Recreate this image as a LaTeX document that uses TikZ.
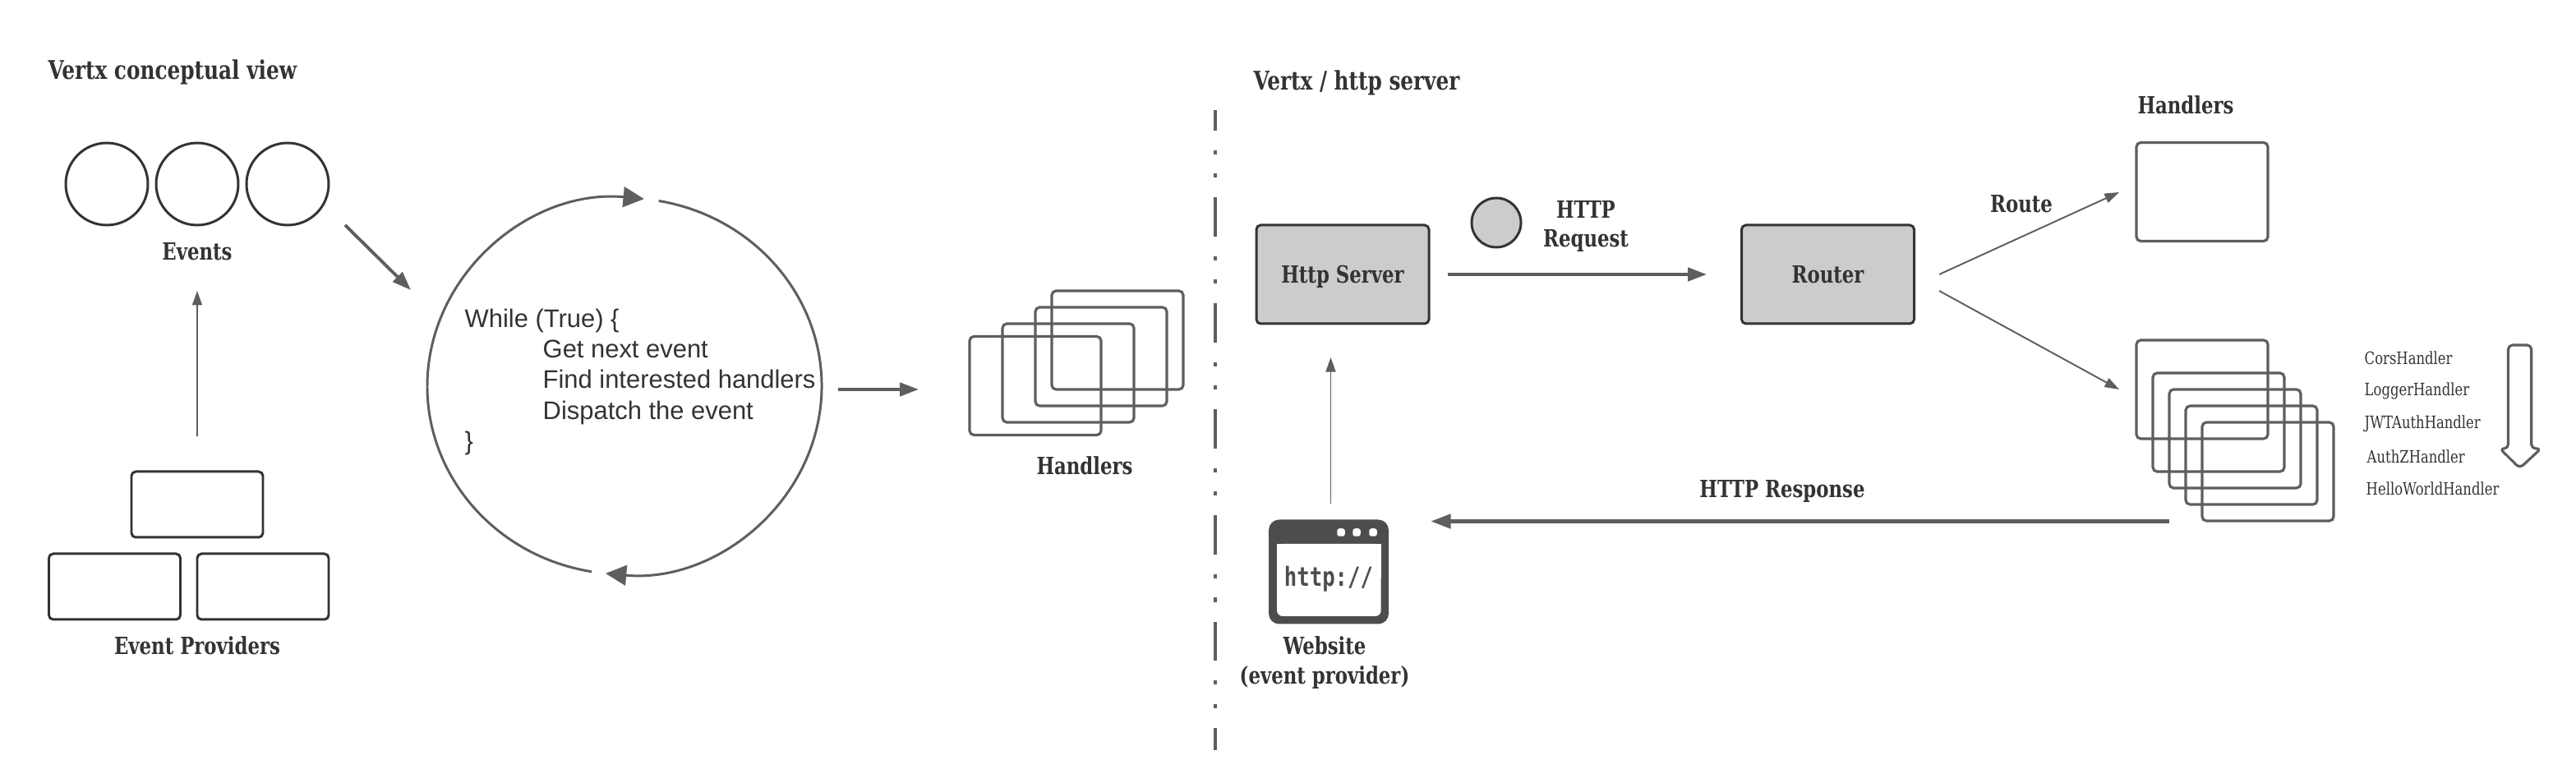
\documentclass[tikz,border=0pt]{standalone}
\usepackage{fontspec}
\usepackage{xcolor}
\usetikzlibrary{arrows.meta}
\setmainfont{Liberation Sans}
\newfontfamily\slabfont[FakeStretch=0.88]{DejaVu Serif Condensed}
\newfontfamily\iconfont{DejaVu Sans Mono}
\definecolor{inkDark}{RGB}{51, 51, 51}
\definecolor{lineGrey}{RGB}{94, 94, 94}
\definecolor{iconGrey}{RGB}{77, 77, 77}
\definecolor{boxGrey}{RGB}{204, 204, 204}
\tikzset{
  label/.style={text=inkDark, inner sep=0pt, align=center, font=\slabfont\bfseries\fontsize{8.2}{10}\selectfont},
  titleLabel/.style={label, anchor=west, font=\slabfont\bfseries\fontsize{8.9}{11}\selectfont},
  handlerName/.style={text=inkDark, inner sep=0pt, anchor=west, font=\slabfont\fontsize{5.9}{7}\selectfont},
  eventBall/.style={draw=inkDark, circle, line width=0.85pt, minimum size=1cm, inner sep=0pt},
  providerBox/.style={draw=inkDark, rounded corners=1.5pt, line width=0.85pt, minimum width=1.6cm, minimum height=0.8cm},
  handlerBox/.style={draw=lineGrey, rounded corners=1.5pt, line width=0.9pt, minimum width=1.6cm, minimum height=1.2cm},
  serverBox/.style={draw=inkDark, fill=boxGrey, rounded corners=1.5pt, line width=0.85pt, minimum width=2.1cm, minimum height=1.2cm, text=inkDark, text depth=0pt, font=\slabfont\bfseries\fontsize{8.2}{10}\selectfont},
  thinArrow/.style={draw=lineGrey, line width=0.55pt, -{Triangle[length=5pt, width=3.4pt]}},
  midArrow/.style={draw=lineGrey, line width=1.1pt, -{Triangle[length=6.5pt, width=4.6pt]}},
  heavyArrow/.style={draw=lineGrey, line width=1.4pt, -{Triangle[length=7pt, width=4.8pt]}},
  loopArrow/.style={draw=lineGrey, line width=0.85pt, -{Triangle[length=7.2pt, width=7pt]}}
}
\begin{document}
\begin{tikzpicture}
  \useasboundingbox (0,0.01) rectangle (31.35,9.54);

  % Conceptual view
  \node[titleLabel] (titleLeft) at (0.58,8.665) {Vertx conceptual view};
  \node[eventBall] (event1) at (1.30,7.30) {};
  \node[eventBall] (event2) at (2.40,7.30) {};
  \node[eventBall] (event3) at (3.50,7.30) {};
  \node[label] (eventsLabel) at (2.40,6.475) {Events};

  % Event providers
  \node[providerBox] (providerTop) at (2.40,3.40) {};
  \node[providerBox] (providerLeft) at (1.395,2.40) {};
  \node[providerBox] (providerRight) at (3.20,2.40) {};
  \node[label] (providersLabel) at (2.40,1.68) {Event Providers};
  \draw[thinArrow, shorten <=0.41cm, shorten >=0.36cm] (providerTop.north) -- (eventsLabel.south);

  % Event loop
  \coordinate (loopCentre) at (7.60,4.84);
  \draw[loopArrow] ([shift={(80:2.4 and 2.29)}]loopCentre) arc[start angle=80, end angle=-95.5, x radius=2.4, y radius=2.29];
  \draw[loopArrow] ([shift={(260.4:2.4 and 2.29)}]loopCentre) arc[start angle=260.4, end angle=84.3, x radius=2.4, y radius=2.29];
  \node[text=inkDark, inner sep=0pt, anchor=west, align=left, font=\fontsize{8.8}{10.6}\selectfont] (loopText) at (5.65,4.89) {While (True) \{\\
    \hspace*{0.95cm}Get next event\\
    \hspace*{0.95cm}Find interested handlers\\
    \hspace*{0.95cm}Dispatch the event\\
    \}};
  \coordinate (eventsOut) at (4.20,6.80);
  \coordinate (loopIn) at (5.00,6.01);
  \draw[midArrow] (eventsOut) -- (loopIn);
  \coordinate (loopOut) at (10.20,4.80);
  \coordinate (stackIn) at (11.18,4.80);
  \draw[midArrow] (loopOut) -- (stackIn);

  % Handlers of the loop
  \node[handlerBox] (loopHandler1) at (12.60,4.845) {};
  \node[handlerBox] (loopHandler2) at (13.00,5.00) {};
  \node[handlerBox] (loopHandler3) at (13.40,5.20) {};
  \node[handlerBox] (loopHandler4) at (13.60,5.40) {};
  \node[label] (loopHandlersLabel) at (13.20,3.87) {Handlers};

  % Divider
  \coordinate (dividerTop) at (14.79,8.20);
  \coordinate (dividerEnd) at (14.79,0.405);
  \draw[lineGrey, line width=1.15pt, dash pattern=on 0.475cm off 0.24cm on 0.05cm off 0.235cm on 0.05cm off 0.24cm, dash phase=0.225cm] (dividerTop) -- (dividerEnd);

  % Http server
  \node[titleLabel] (titleRight) at (15.25,8.535) {Vertx / http server};
  \node[serverBox] (server) at (16.34,6.20) {Http Server};
  \node[serverBox] (router) at (22.245,6.20) {Router};
  \draw[midArrow, shorten <=0.21cm, shorten >=0.41cm] (server) -- (router);
  \node[draw=inkDark, fill=boxGrey, circle, line width=0.85pt, minimum size=0.6cm, inner sep=0pt] (request) at (18.21,6.83) {};
  \node[label] (requestLabel) at (19.30,6.785) {HTTP\\Request};

  % Website icon
  \node[fill=iconGrey, rounded corners=3.6pt, minimum width=1.46cm, minimum height=1.27cm, inner sep=0pt] (website) at (16.17,2.58) {};
  \fill[white, rounded corners=2pt] (15.54,2.04) rectangle (16.807,2.92);
  \fill[white] (15.54,2.5) rectangle (16.807,2.92);
  \foreach \dotX/\dotName in {16.32/dot1, 16.51/dot2, 16.71/dot3}
    \node[fill=white, rounded corners=0.8pt, minimum size=0.095cm, inner sep=0pt] (\dotName) at (\dotX,3.06) {};
  \node[text=iconGrey, inner sep=0pt, font=\iconfont\bfseries\fontsize{7.3}{9}\selectfont] (httpText) at (16.17,2.49) {\scalebox{1}[1.25]{http://}};
  \node[label] (websiteLabel) at (16.12,1.475) {Website\\(event provider)};
  \coordinate (websiteOut) at (16.195,3.41);
  \coordinate (serverIn) at (16.195,5.19);
  \draw[thinArrow] (websiteOut) -- (serverIn);

  % Router to handlers
  \node[label] (routeLabel) at (24.60,7.06) {Route};
  \coordinate (routeOutA) at (23.60,6.20);
  \coordinate (routeTipA) at (25.79,7.20);
  \coordinate (routeOutB) at (23.60,6.00);
  \coordinate (routeTipB) at (25.79,4.80);
  \draw[thinArrow] (routeOutA) -- (routeTipA);
  \draw[thinArrow] (routeOutB) -- (routeTipB);
  \node[label] (handlersTopLabel) at (26.60,8.26) {Handlers};
  \node[handlerBox] (singleHandler) at (26.80,7.205) {};

  % Handler chain
  \node[handlerBox] (chain1) at (26.80,4.80) {};
  \node[handlerBox] (chain2) at (27.00,4.40) {};
  \node[handlerBox] (chain3) at (27.20,4.20) {};
  \node[handlerBox] (chain4) at (27.40,4.00) {};
  \node[handlerBox] (chain5) at (27.60,3.80) {};
  \node[handlerName] (corsName) at (28.77,5.186) {CorsHandler};
  \node[handlerName] (loggerName) at (28.77,4.784) {LoggerHandler};
  \node[handlerName] (jwtName) at (28.77,4.386) {JWTAuthHandler};
  \node[handlerName] (authName) at (28.80,3.985) {AuthZHandler};
  \node[handlerName] (helloName) at (28.79,3.59) {HelloWorldHandler};
  \draw[lineGrey, line width=0.9pt, line join=round, rounded corners=1.5pt] (30.525,5.34) -- (30.807,5.34) -- (30.807,4.08) -- (30.923,4.08) -- (30.665,3.84) -- (30.424,4.08) -- (30.525,4.08) -- cycle;

  % Response
  \node[label] (responseLabel) at (21.69,3.56) {HTTP Response};
  \coordinate (responseOut) at (26.40,3.195);
  \coordinate (responseIn) at (17.41,3.195);
  \draw[heavyArrow] (responseOut) -- (responseIn);
\end{tikzpicture}
\end{document}
